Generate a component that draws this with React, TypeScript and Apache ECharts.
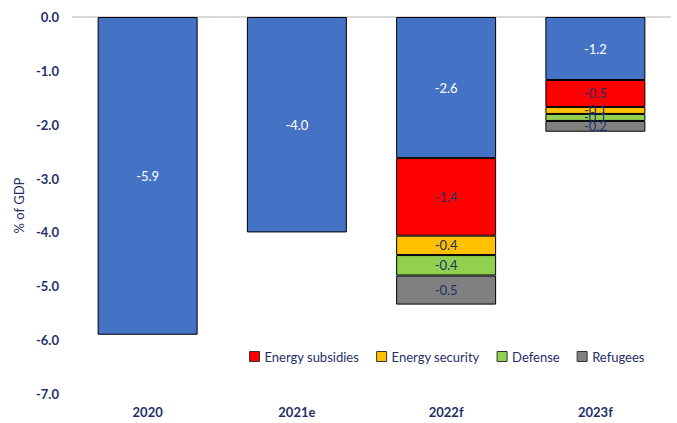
import React, { useEffect, useRef } from "react";
import * as echarts from "echarts";

const categories = ["2020", "2021e", "2022f", "2023f"];
const baseline = [-5.9, -4.0, -2.62, -1.17];
const energySubsidies = [null, null, -1.44, -0.5];
const energySecurity = [null, null, -0.36, -0.13];
const defense = [null, null, -0.38, -0.13];
const refugees = [null, null, -0.54, -0.2];
const yTicks = { min: -7, max: 0, interval: 1 };

const NAVY = "#1F3069";
const FONT = "Lato, 'Open Sans', sans-serif";

export default function App() {
  const ref = useRef<HTMLDivElement>(null);
  useEffect(() => {
    if (!ref.current) return;
    const chart = echarts.init(ref.current, null, { renderer: "svg" });
    const fmt = (p: any) => (p.value == null ? "" : Number(p.value).toFixed(1));
    const mk = (name: string, data: any[], color: string, labelColor: string) => ({
      name,
      type: "bar",
      stack: "total",
      data,
      barWidth: "67%",
      itemStyle: { color, borderColor: "#000", borderWidth: 1 },
      label: {
        show: true,
        position: "inside",
        formatter: fmt,
        color: labelColor,
        fontSize: 13,
        fontFamily: FONT,
      },
    });
    chart.setOption({
      animation: false,
      textStyle: { fontFamily: FONT },
      grid: { left: 73, right: 7, top: 17, bottom: 29 },
      legend: {
        data: ["Energy subsidies", "Energy security", "Defense", "Refugees"],
        left: 244,
        top: 345,
        width: 430,
        itemWidth: 10,
        itemHeight: 10,
        itemGap: 17,
        icon: "rect",
        textStyle: { color: NAVY, fontSize: 13, fontFamily: FONT },
        itemStyle: { borderColor: "#333", borderWidth: 1 },
      },
      xAxis: [
        {
          type: "category",
          data: categories,
          position: "bottom",
          axisLine: { show: false, onZero: false },
          axisTick: { show: false },
          axisLabel: { color: NAVY, fontWeight: "bold", fontSize: 13, margin: 11, fontFamily: FONT },
        },
        {
          type: "category",
          data: categories,
          position: "top",
          axisLine: { show: true, onZero: false, lineStyle: { color: "#d9d9d9", width: 2 } },
          axisTick: { show: false },
          axisLabel: { show: false },
        },
      ],
      yAxis: {
        type: "value",
        min: yTicks.min,
        max: yTicks.max,
        interval: yTicks.interval,
        name: "% of GDP",
        nameLocation: "middle",
        nameGap: 48,
        nameTextStyle: { color: NAVY, fontSize: 13, fontFamily: FONT },
        axisLine: { show: false },
        axisTick: { show: false },
        splitLine: { show: false },
        axisLabel: {
          color: NAVY,
          fontWeight: "bold",
          fontSize: 13,
          margin: 14,
          fontFamily: FONT,
          formatter: (v: number) => v.toFixed(1),
        },
      },
      series: [
        mk("Baseline", baseline, "#4472C4", "#ffffff"),
        mk("Energy subsidies", energySubsidies, "#FF0000", NAVY),
        mk("Energy security", energySecurity, "#FFC000", NAVY),
        mk("Defense", defense, "#92D050", NAVY),
        mk("Refugees", refugees, "#808080", NAVY),
      ],
    });
    return () => chart.dispose();
  }, []);
  return (
    <div
      ref={ref}
      style={{ position: "absolute", left: 0, top: 0, width: 677, height: 423 }}
    />
  );
}
